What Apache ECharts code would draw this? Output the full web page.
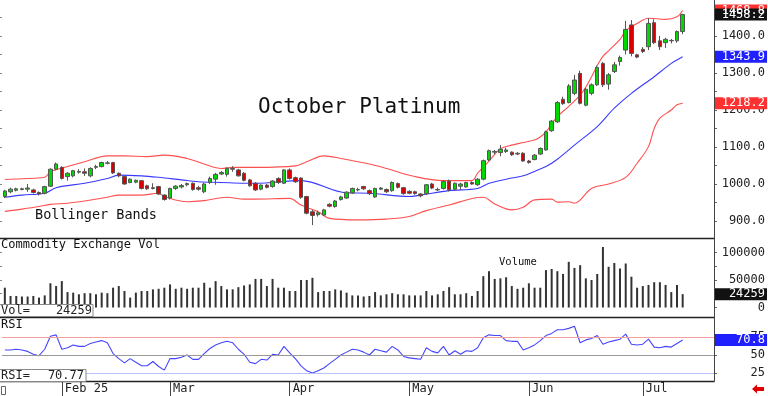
<!DOCTYPE html>
<html><head><meta charset="utf-8">
<script src="https://cdn.jsdelivr.net/npm/echarts@6/dist/echarts.min.js"></script>
<style>html,body{margin:0;padding:0;background:#fff;}#c{width:768px;height:396px;}</style>
</head><body><div id="c"></div>
<script>
// ---- data ----
const dates = ['01-17','01-21','01-22','01-23','01-24','01-27','01-28','01-29','01-30','01-31',
'02-03','02-04','02-05','02-06','02-07','02-10','02-11','02-12','02-13','02-14','02-18','02-19','02-20','02-21','02-24','02-25','02-26','02-27','02-28',
'03-03','03-04','03-05','03-06','03-07','03-10','03-11','03-12','03-13','03-14','03-17','03-18','03-19','03-20','03-21','03-24','03-25','03-26','03-27','03-28','03-31',
'04-01','04-02','04-03','04-04','04-07','04-08','04-09','04-10','04-11','04-14','04-15','04-16','04-17','04-21','04-22','04-23','04-24','04-25','04-28','04-29','04-30',
'05-01','05-02','05-05','05-06','05-07','05-08','05-09','05-12','05-13','05-14','05-15','05-16','05-19','05-20','05-21','05-22','05-23','05-27','05-28','05-29','05-30',
'06-02','06-03','06-04','06-05','06-06','06-09','06-10','06-11','06-12','06-13','06-16','06-17','06-18','06-20','06-23','06-24','06-25','06-26','06-27','06-30',
'07-01','07-02','07-03','07-07','07-08','07-09','07-10','07-11'];
const opens = [966,979,983,987,986,984,977,975,994,1040,1045,1020,1022,1032,1033,1022,1045,1047,1056,1058,1029,1020,1004,1005,1009,995,988,993,970,962,
988,992,998,1002,990,979,1004,1013,1027,1026,1042,1038,1029,1011,1002,986,997,993,1015,1002,1038,1017,1016,966,925,917,916,945,939,958,
962,976,984,993,982,965,986,985,982,1001,990,980,979,973,974,1000,984,988,1008,986,994,992,1004,998,1013,1065,1086,1085,1088,1086,
1081,1083,1062,1066,1081,1092,1144,1168,1229,1220,1245,1299,1213,1245,1268,1326,1270,1304,1331,1362,1430,1349,1364,1371,1436,1387,1382,1388,1387,1412];
const closes = [981,986,987,985,989,977,973,993,1040,1054,1015,1029,1036,1034,1029,1042,1047,1058,1057,1030,1022,1000,1013,1010,988,987,990,973,958,988,
994,996,1001,985,986,1000,1015,1026,1031,1042,1040,1022,1010,995,984,997,991,1008,1004,1038,1015,1006,964,921,915,922,930,940,954,965,
978,988,985,987,974,988,989,979,1004,991,974,975,974,968,998,989,985,1007,984,1002,1000,1004,1000,1013,1063,1090,1088,1094,1092,1079,
1083,1062,1058,1078,1096,1141,1170,1220,1217,1265,1281,1218,1256,1268,1315,1268,1295,1322,1342,1418,1353,1343,1358,1434,1382,1371,1391,1387,1412,1458.2];
const lows = [962,975,980,983,979,974,969,972,992,1037,1012,1009,1018,1028,1022,1018,1040,1045,1053,1027,1018,998,1002,1002,985,984,985,970,955,958,
984,988,994,982,982,975,1000,998,1024,1020,1033,1020,1007,993,981,983,988,990,1000,1000,1012,1003,960,918,889,912,913,937,936,955,
960,973,980,984,970,962,984,976,979,988,971,972,971,964,970,986,981,985,980,983,985,990,998,995,1010,1062,1080,1075,1084,1076,
1078,1060,1055,1064,1078,1090,1141,1165,1214,1218,1240,1215,1210,1240,1265,1262,1255,1300,1320,1350,1345,1340,1354,1362,1378,1362,1368,1380,1382,1405];
const highs = [984,990,990,990,1000,987,980,995,1042,1058,1048,1032,1038,1040,1042,1045,1052,1060,1062,1060,1031,1022,1015,1012,1011,998,1002,995,972,990,
997,1000,1004,1004,995,1003,1020,1030,1035,1045,1048,1041,1032,1014,1005,999,1000,1010,1018,1040,1042,1020,1018,968,930,928,933,948,957,968,
980,990,990,995,985,990,992,988,1007,1004,992,983,982,975,1000,1003,990,1010,1012,1004,1003,1006,1007,1016,1066,1093,1092,1105,1098,1088,
1086,1086,1065,1081,1099,1144,1173,1224,1236,1270,1295,1306,1260,1272,1320,1330,1300,1330,1347,1441,1443,1352,1370,1448,1445,1400,1395,1392,1415,1460];
const upperBand = [[0,1012],[3,1014],[7,1018],[8,1033],[11,1047],[14,1060],[18,1076],[21,1076],[25,1074],[28,1078],[32,1069],[35,1054],[38,1042],[40,1045],[44,1045],
[51,1049],[53,1060],[56,1076],[59,1069],[64,1054],[67,1042],[72,1020],[77,1009],[82,1009],[83,1029],[85,1062],[87,1095],[89,1105],[91,1112],[93,1119],[94,1127],
[95,1141],[97,1182],[99,1210],[101,1240],[102,1262],[103,1290],[104,1320],[105,1345],[106,1360],[108,1391],[109,1414],[111,1434],[113,1448],[116,1445],[118,1452],[119,1468.8]];
const middleBand = [[0,964],[3,970],[7,975],[9,990],[14,1002],[18,1015],[20,1024],[24,1022],[27,1018],[31,1011],[34,1006],[38,1004],[42,1002],[44,1002],[52,1009],
[60,976],[64,975],[71,966],[73,970],[78,982],[83,988],[85,1002],[89,1016],[91,1022],[93,1034],[95,1047],[97,1067],[100,1105],[104,1155],[107,1205],[110,1245],[114,1290],[117,1326],[119,1343.9]];
const lowerBand = [[0,926],[3,932],[6,939],[8,945],[11,948],[14,954],[18,964],[20,970],[24,970],[27,975],[28,966],[32,952],[35,955],[39,964],[42,959],[44,959],
[50,961],[52,943],[55,925],[57,907],[62,903],[67,905],[71,912],[74,928],[78,943],[82,961],[84,964],[86,946],[89,930],[91,937],[93,957],[96,959],[97,951],[99,952],
[100,948],[103,988],[106,1000],[109,1018],[111,1056],[113,1101],[114,1150],[115,1178],[117,1200],[118,1214],[119,1218.2]];
const volume = [36000,21000,21000,20000,20000,21000,18000,22000,44000,39000,48000,28000,27000,24000,26000,26000,24000,27000,26000,36000,
39000,30000,18000,27000,30000,30000,33000,34000,36000,42000,34000,36000,34000,36000,36000,45000,36000,48000,39000,33000,
33000,37000,40000,42000,52000,52000,39000,52000,36000,36000,30000,30000,50000,50000,54000,28000,30000,30000,33000,31000,
27000,22000,22000,20000,21000,28000,22000,24000,26000,24000,24000,22000,22000,22000,30000,22000,24000,30000,37000,24000,
24000,26000,21000,30000,57000,66000,52000,53000,55000,39000,34000,36000,44000,36000,36000,68000,70000,66000,61000,83000,
72000,77000,53000,50000,61000,110000,74000,81000,71000,80000,56000,36000,39000,41000,46000,46000,41000,28000,41000,24259];
const rsi = [57,57,58,57,55,51,49,58,76,78,58,60,64,62,62,66,68,70,67,52,45,39,45,40,35,35,41,34,29,45,
45,47,50,44,44,52,59,64,67,69,67,58,51,40,38,44,43,51,50,62,53,45,35,28,25,28,32,38,44,50,
54,58,57,54,50,58,56,54,62,57,48,46,45,44,60,55,53,62,50,56,51,56,55,60,74,78,77,77,70,69,
69,57,60,64,70,77,80,85,85,87,90,67,71,73,77,65,68,70,72,79,65,64,65,72,61,60,62,61,66,70.77];
const monthLabels = ['Feb 25','Mar','Apr','May','Jun','Jul'];
const monthStarts = ['02-03','03-03','04-01','05-01','06-02','07-01'];
const priceTicks = [900,1000,1100,1200,1300,1400];
const volTicks = [0,50000,100000];
const rsiTicks = [25,50,75];

// ---- chart ----
const FONT = 'DejaVu Sans Mono';
const cats = dates.concat(['p1','p2','p3','p4','p5']);
const tickIdx = monthStarts.map(d => dates.indexOf(d));
const GL = 2, GW = 712.7;
const chart = echarts.init(document.getElementById('c'), null, {renderer: 'canvas'});
const xBase = {type: 'category', data: cats, boundaryGap: true};
const range = (a, b, s) => { const r = []; for (let v = a; v <= b + 1e-9; v += s) r.push(v); return r; };
const rightLabel = (vals, fmt) => ({show: true, customValues: vals, formatter: fmt, align: 'right', margin: 51,
  color: '#222', fontFamily: FONT, fontSize: 12});
const option = {
  animation: false,
  grid: [
    {left: GL, width: GW, top: 0, height: 238},
    {left: GL, width: GW, top: 239, height: 78},
    {left: GL, width: GW, top: 318, height: 63}
  ],
  xAxis: [
    Object.assign({gridIndex: 0, show: false}, xBase),
    Object.assign({gridIndex: 1, show: false}, xBase),
    Object.assign({gridIndex: 2, axisLine: {show: false},
      axisTick: {show: true, alignWithLabel: true, length: 15, interval: (i) => tickIdx.includes(i), lineStyle: {color: '#444'}},
      axisLabel: {show: true, interval: (i) => tickIdx.includes(i), formatter: (v, i) => monthLabels[tickIdx.indexOf(i)] || '',
        align: 'left', margin: 2, padding: [0, 0, 0, 3], color: '#222', fontFamily: FONT, fontSize: 12}}, xBase)
  ],
  yAxis: [
    {gridIndex: 0, position: 'right', min: 854, max: 1497.3, splitLine: {show: false},
      axisLine: {show: false}, axisTick: {show: true, customValues: range(900, 1450, 50), length: 3, lineStyle: {color: '#666'}},
      axisLabel: rightLabel(priceTicks, v => Number(v).toFixed(1))},
    {gridIndex: 1, position: 'right', min: -17273, max: 124545, splitLine: {show: false},
      axisLine: {show: false}, axisTick: {show: true, customValues: range(0, 100000, 25000), length: 3, lineStyle: {color: '#666'}},
      axisLabel: rightLabel(volTicks, v => String(v))},
    {gridIndex: 2, position: 'right', min: 13.9, max: 101.4, splitLine: {show: false},
      axisLine: {show: false}, axisTick: {show: true, customValues: rsiTicks, length: 3, lineStyle: {color: '#666'}},
      axisLabel: rightLabel(rsiTicks, v => String(v))},
    {gridIndex: 0, position: 'left', min: 854, max: 1497.3, splitLine: {show: false}, axisLine: {show: false},
      axisLabel: {show: false}, axisTick: {show: true, customValues: range(900, 1450, 50), length: 2, lineStyle: {color: '#888'}}},
    {gridIndex: 1, position: 'left', min: -17273, max: 124545, splitLine: {show: false}, axisLine: {show: false},
      axisLabel: {show: false}, axisTick: {show: true, customValues: range(25000, 100000, 25000), length: 2, lineStyle: {color: '#888'}}}
  ],
  series: [
    {type: 'line', xAxisIndex: 0, yAxisIndex: 0, data: upperBand, showSymbol: false, smooth: 0.35, lineStyle: {color: '#ff5050', width: 1.1}, z: 1},
    {type: 'line', xAxisIndex: 0, yAxisIndex: 0, data: middleBand, showSymbol: false, smooth: 0.35, lineStyle: {color: '#3a3aff', width: 1.1}, z: 1},
    {type: 'line', xAxisIndex: 0, yAxisIndex: 0, data: lowerBand, showSymbol: false, smooth: 0.35, lineStyle: {color: '#ff5050', width: 1.1}, z: 1},
    {type: 'candlestick', xAxisIndex: 0, yAxisIndex: 0, barWidth: 4, z: 3,
      data: dates.map((d, i) => [opens[i], closes[i], lows[i], highs[i]]),
      itemStyle: {color: '#00d800', color0: '#d80000', borderColor: '#555', borderColor0: '#555', borderWidth: 1}},
    {type: 'bar', xAxisIndex: 1, yAxisIndex: 1, data: volume, barWidth: 2, itemStyle: {color: '#333'}},
    {type: 'line', xAxisIndex: 2, yAxisIndex: 2, data: rsi, showSymbol: false, lineStyle: {color: '#4646ff', width: 1.1}, z: 3,
      markLine: {silent: true, symbol: 'none', label: {show: false}, animation: false, data: [
        {yAxis: 75, lineStyle: {color: '#f4a0a0', type: 'solid', width: 1}},
        {yAxis: 50, lineStyle: {color: '#999999', type: 'solid', width: 1}},
        {yAxis: 25, lineStyle: {color: '#b8c0ff', type: 'solid', width: 1}}]}}
  ]
};
chart.setOption(option);

const py = (axis, v) => chart.convertToPixel({yAxisIndex: axis}, v);
const txt = (text, x, y, size, opts) => Object.assign({type: 'text', z: 100,
  style: Object.assign({text: text, x: x, y: y, fill: '#111', font: size + 'px "' + FONT + '"', align: 'left', verticalAlign: 'middle'}, opts || {})});
const tag = (value, axis, label, fill) => {
  const y = py(axis, value);
  return [
    {type: 'rect', z: 110, shape: {x: 715, y: y - 6, width: 52, height: 12}, style: {fill: fill}},
    {type: 'text', z: 111, style: {text: label, x: 765, y: y, fill: '#fff', font: '12px "' + FONT + '"', align: 'right', verticalAlign: 'middle'}}
  ];
};
const last = arr => arr[arr.length - 1];
const AXX = 714.5;
const lineEl = (x1, y1, x2, y2, c, w) => ({type: 'line', z: 90, shape: {x1, y1, x2, y2}, style: {stroke: c, lineWidth: w || 1}});
let g = [
  lineEl(0, 238.5, AXX, 238.5, '#222', 1.3),
  lineEl(0, 317.5, AXX, 317.5, '#222', 1.3),
  lineEl(0, 381.5, AXX, 381.5, '#222', 1.3),
  lineEl(AXX, 0, AXX, 381.5, '#444', 1),
  txt('October Platinum', 258, 108, 21),
  txt('Bollinger Bands', 35, 215, 13.5),
  txt('Commodity Exchange Vol', 1, 245, 12),
  txt('Volume', 499, 262.5, 10.5),
  txt('RSI', 1, 325, 12),
  {type: 'rect', z: 100, shape: {x: -1, y: 304.5, width: 94, height: 12}, style: {fill: '#fff', stroke: '#888', lineWidth: 1}},
  txt('Vol=', 1, 310.5, 12, {fill: '#222'}),
  txt(String(last(volume)), 92, 310.5, 12, {align: 'right', fill: '#222'}),
  {type: 'rect', z: 100, shape: {x: -1, y: 369.5, width: 87, height: 12}, style: {fill: '#fff', stroke: '#888', lineWidth: 1}},
  txt('RSI=', 1, 375.5, 12, {fill: '#222'}),
  txt(last(rsi).toFixed(2), 84, 375.5, 12, {align: 'right', fill: '#222'}),
  {type: 'rect', z: 100, shape: {x: 1.5, y: 386.5, width: 4, height: 8}, style: {fill: 'none', stroke: '#666', lineWidth: 1}},
  {type: 'polygon', z: 100, shape: {points: [[752, 389], [757, 384.5], [757, 387], [764, 387], [764, 391], [757, 391], [757, 393.5]]}, style: {fill: '#e00000'}}
];
g = g.concat(
  tag(last(upperBand)[1], 0, last(upperBand)[1].toFixed(1), '#ff3030'),
  tag(last(closes), 0, last(closes).toFixed(1), '#111111'),
  tag(last(middleBand)[1], 0, last(middleBand)[1].toFixed(1), '#2020ff'),
  tag(last(lowerBand)[1], 0, last(lowerBand)[1].toFixed(1), '#ff3030'),
  tag(last(volume), 1, String(last(volume)), '#111111'),
  tag(last(rsi), 2, last(rsi).toFixed(1), '#2020ff')
);
chart.setOption({graphic: {elements: g}});
</script></body></html>
